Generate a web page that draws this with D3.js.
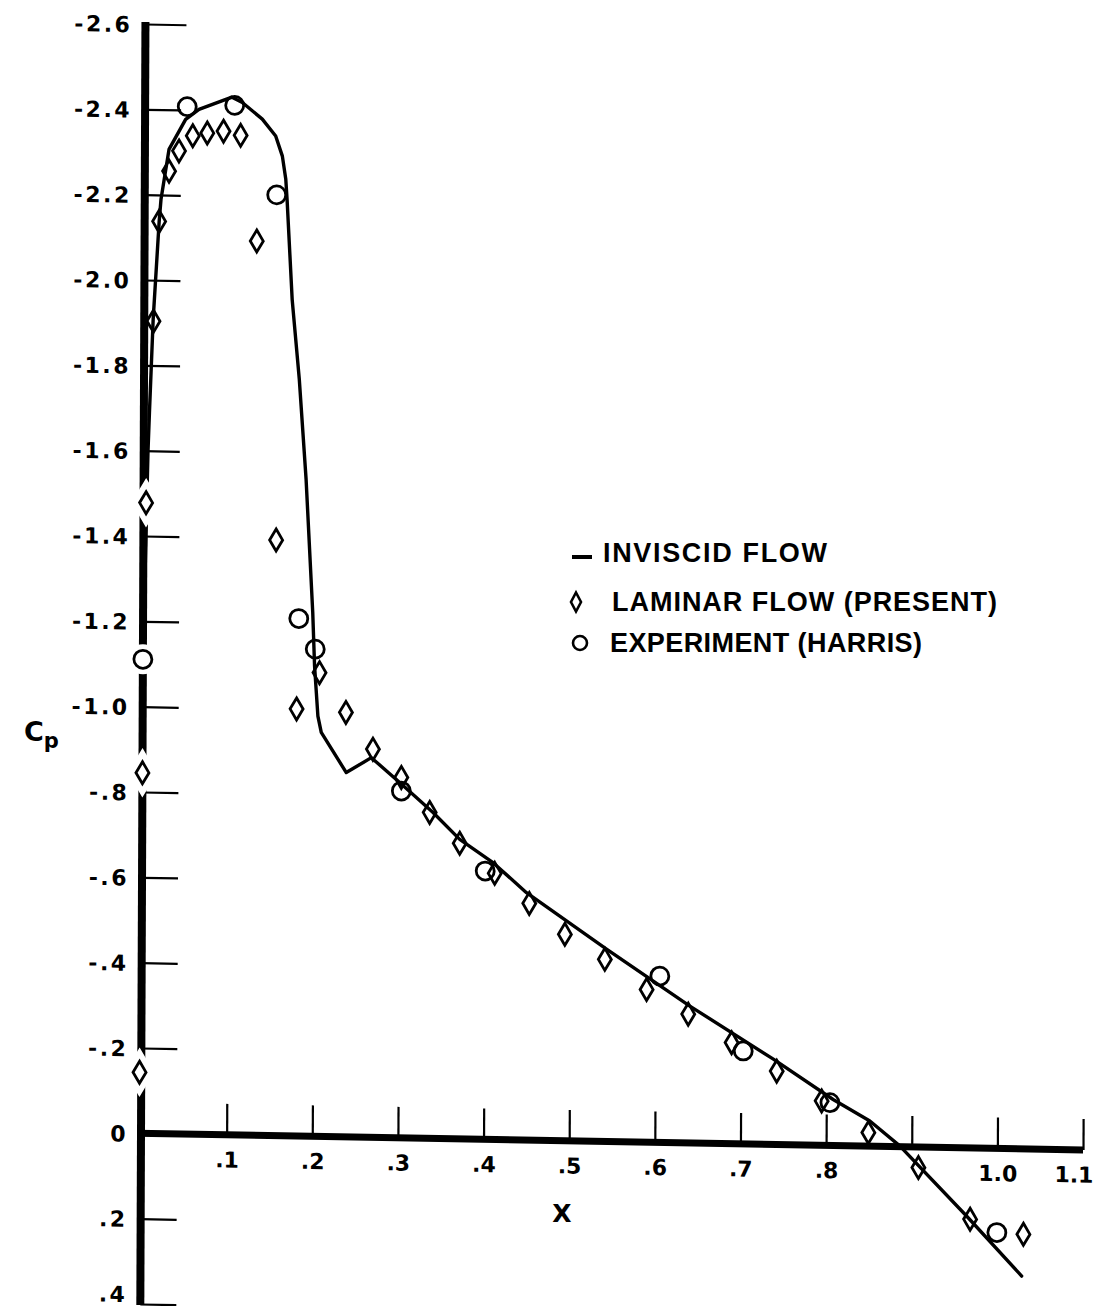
<!DOCTYPE html>
<html>
<head>
<meta charset="utf-8">
<script src="https://cdn.jsdelivr.net/npm/d3@7"></script>
<style>
  html, body { margin: 0; padding: 0; background: #fff; }
  svg { display: block; }
  text { font-weight: bold; fill: #000; }
</style>
</head>
<body>
<svg id="chart" width="1095" height="1306"></svg>
<script>
// ---------------- data ----------------
const inviscidX  = [0.000, 0.003, 0.005, 0.0065, 0.0104, 0.0169, 0.019, 0.0281, 0.0474, 0.0629, 0.1014, 0.1135, 0.1369, 0.1526, 0.1605, 0.1646, 0.1662, 0.1726, 0.1813, 0.1897, 0.1981, 0.2005, 0.2046, 0.2086, 0.238, 0.2672, 0.3004, 0.3395, 0.3708, 0.4098, 0.449, 0.5427, 0.6403, 0.738, 0.808, 0.851, 0.886, 0.9646, 1.029];
const inviscidCp = [-1.13, -1.40, -1.60, -1.69, -1.908, -2.136, -2.19, -2.307, -2.378, -2.402, -2.432, -2.420, -2.382, -2.343, -2.296, -2.242, -2.195, -1.961, -1.774, -1.540, -1.228, -1.102, -0.985, -0.947, -0.854, -0.890, -0.833, -0.764, -0.702, -0.649, -0.580, -0.451, -0.321, -0.200, -0.108, -0.059, -0.002, 0.160, 0.298];

const laminarX  = [-0.002, 0.0, 0.003, 0.0108, 0.0169, 0.0283, 0.0398, 0.0558, 0.0727, 0.0917, 0.1117, 0.131, 0.155, 0.1797, 0.2063, 0.2373, 0.269, 0.3023, 0.3356, 0.3708, 0.4118, 0.4523, 0.494, 0.5408, 0.5897, 0.6384, 0.6892, 0.742, 0.7946, 0.8493, 0.9079, 0.9685, 1.0308];
const laminarCp = [-0.143, -0.845, -1.478, -1.904, -2.138, -2.256, -2.304, -2.340, -2.347, -2.352, -2.343, -2.096, -1.396, -1.001, -1.087, -0.995, -0.910, -0.845, -0.764, -0.693, -0.624, -0.555, -0.484, -0.427, -0.358, -0.302, -0.237, -0.172, -0.104, -0.032, 0.048, 0.167, 0.200];

const harrisX  = [0.0, 0.0492, 0.1046, 0.1541, 0.1818, 0.2012, 0.3024, 0.4007, 0.6051, 0.7028, 0.8043, 0.9998];
const harrisCp = [-1.111, -2.408, -2.413, -2.205, -1.213, -1.142, -0.813, -0.629, -0.390, -0.218, -0.1005, 0.197];

const xTickValues = [0.1, 0.2, 0.3, 0.4, 0.5, 0.6, 0.7, 0.8, 0.9, 1.0, 1.1];
const xTickLabels = [".1", ".2", ".3", ".4", ".5", ".6", ".7", ".8", "", "1.0", "1.1"];
const yTickValues = [-2.6, -2.4, -2.2, -2.0, -1.8, -1.6, -1.4, -1.2, -1.0, -0.8, -0.6, -0.4, -0.2, 0, 0.2, 0.4];
const yTickLabels = ["-2.6", "-2.4", "-2.2", "-2.0", "-1.8", "-1.6", "-1.4", "-1.2", "-1.0", "-.8", "-.6", "-.4", "-.2", "0", ".2", ".4"];

const legendLabels = ["INVISCID FLOW", "LAMINAR FLOW (PRESENT)", "EXPERIMENT (HARRIS)"];

// ---------------- drawing ----------------
const svg = d3.select("#chart");
const x = d3.scaleLinear().domain([0, 1.1]).range([141, 1083]);
const y = d3.scaleLinear().domain([-2.6, 0.4]).range([24, 1304]);
const x0 = x(0), y0 = y(0);
const tickFont = "'DejaVu Sans', 'Liberation Sans', sans-serif";
const textFont = "'Liberation Sans', Arial, Helvetica, sans-serif";

// the hand-drawn original axes are slightly skewed; reproduce with a shear about the origin
const b = 0.0177, c = -0.004;
const plot = svg.append("g")
  .attr("transform", `matrix(1,${b},${c},1,${-c * y0},${-b * x0})`);

// thick axes
plot.append("line")
  .attr("x1", x0).attr("x2", x0)
  .attr("y1", y(-2.6) - 2).attr("y2", y(0.4) + 1)
  .attr("stroke", "#000").attr("stroke-width", 8);
plot.append("line")
  .attr("x1", x0 - 4).attr("x2", x(1.1))
  .attr("y1", y0).attr("y2", y0)
  .attr("stroke", "#000").attr("stroke-width", 7);

// y ticks (pointing right, into the plot)
const yAxis = d3.axisLeft(y)
  .tickValues(yTickValues)
  .tickSize(-36)
  .tickPadding(13)
  .tickFormat((d, i) => yTickLabels[i]);
const gy = plot.append("g").attr("transform", `translate(${x0},0)`).call(yAxis);
gy.select(".domain").remove();
gy.selectAll(".tick line").attr("stroke", "#000").attr("stroke-width", 2.2)
  .attr("x2", d => d === -2.6 ? 41 : 36)
  .filter(d => d === 0).remove();
gy.selectAll(".tick text")
  .style("font-family", tickFont)
  .style("font-weight", "bold").style("font-size", "22px").attr("fill", "#000")
  .style("letter-spacing", "2.5px")
  .attr("dy", d => d === 0.4 ? "-0.1em" : "0.36em");

// x ticks (pointing up)
const xAxis = d3.axisBottom(x)
  .tickValues(xTickValues)
  .tickSize(-31)
  .tickPadding(17)
  .tickFormat((d, i) => xTickLabels[i]);
const gx = plot.append("g").attr("transform", `translate(0,${y0})`).call(xAxis);
gx.select(".domain").remove();
gx.selectAll(".tick line").attr("stroke", "#000").attr("stroke-width", 2.2);
gx.selectAll(".tick text")
  .style("font-family", tickFont)
  .style("font-weight", "bold").style("font-size", "22px").attr("fill", "#000")
  .attr("text-anchor", d => d === 1.1 ? "end" : "middle")
  .attr("x", d => d === 1.1 ? 10 : 0);

// inviscid line
const inviscid = inviscidX.map((v, i) => ({ x: v, cp: inviscidCp[i] }));
plot.append("path")
  .datum(inviscid)
  .attr("fill", "none").attr("stroke", "#000").attr("stroke-width", 3.4)
  .attr("stroke-linejoin", "round").attr("stroke-linecap", "round")
  .attr("d", d3.line().x(d => x(d.x)).y(d => y(d.cp)));

// markers
const diamondPath = (w, h) => `M0,${-h / 2}L${w / 2},0L0,${h / 2}L${-w / 2},0Z`;
const laminar = laminarX.map((v, i) => ({ x: v, cp: laminarCp[i] }));
const harris = harrisX.map((v, i) => ({ x: v, cp: harrisCp[i] }));

// white halos for markers sitting on the y axis (the axis is broken there)
plot.selectAll(".halo-d").data(laminar.filter(d => d.x < 0.006)).join("path")
  .attr("transform", d => `translate(${x(d.x)},${y(d.cp)})`)
  .attr("d", diamondPath(13, 22))
  .attr("fill", "#fff").attr("stroke", "#fff").attr("stroke-width", 14);
plot.selectAll(".halo-c").data(harris.filter(d => d.x < 0.006)).join("circle")
  .attr("cx", d => x(d.x)).attr("cy", d => y(d.cp)).attr("r", 9)
  .attr("fill", "#fff").attr("stroke", "#fff").attr("stroke-width", 12);

plot.selectAll(".lam").data(laminar).join("path")
  .attr("class", "lam")
  .attr("transform", d => `translate(${x(d.x)},${y(d.cp)})`)
  .attr("d", diamondPath(13, 22))
  .attr("fill", "none").attr("stroke", "#000").attr("stroke-width", 2.8)
  .attr("stroke-linejoin", "miter");
plot.selectAll(".har").data(harris).join("circle")
  .attr("class", "har")
  .attr("cx", d => x(d.x)).attr("cy", d => y(d.cp)).attr("r", 9)
  .attr("fill", "none").attr("stroke", "#000").attr("stroke-width", 2.8);

// ---------------- axis titles ----------------
const cpLabel = svg.append("text").attr("x", 24).attr("y", 741)
  .style("font-family", tickFont).style("font-size", "27px");
cpLabel.append("tspan").text("C");
cpLabel.append("tspan").style("font-size", "21px").attr("dy", 7).text("p");

svg.append("text").attr("x", 562).attr("y", 1222).attr("text-anchor", "middle")
  .style("font-family", tickFont).style("font-size", "25px").text("X");

// ---------------- legend ----------------
const lg = svg.append("g");
lg.append("line").attr("x1", 572).attr("x2", 592).attr("y1", 557).attr("y2", 557)
  .attr("stroke", "#000").attr("stroke-width", 4);
lg.append("path").attr("transform", "translate(576,602)").attr("d", diamondPath(10, 19))
  .attr("fill", "none").attr("stroke", "#000").attr("stroke-width", 2.6);
lg.append("circle").attr("cx", 580).attr("cy", 643).attr("r", 7)
  .attr("fill", "none").attr("stroke", "#000").attr("stroke-width", 2.6);

const legendPos = [[603, 562, 224], [612, 611, 385], [610, 652, 312]];
legendLabels.forEach((t, i) => {
  lg.append("text")
    .attr("x", legendPos[i][0]).attr("y", legendPos[i][1])
    .style("font-family", textFont).style("font-size", "27px")
    .attr("textLength", legendPos[i][2]).attr("lengthAdjust", "spacing")
    .text(t);
});
</script>
</body>
</html>
